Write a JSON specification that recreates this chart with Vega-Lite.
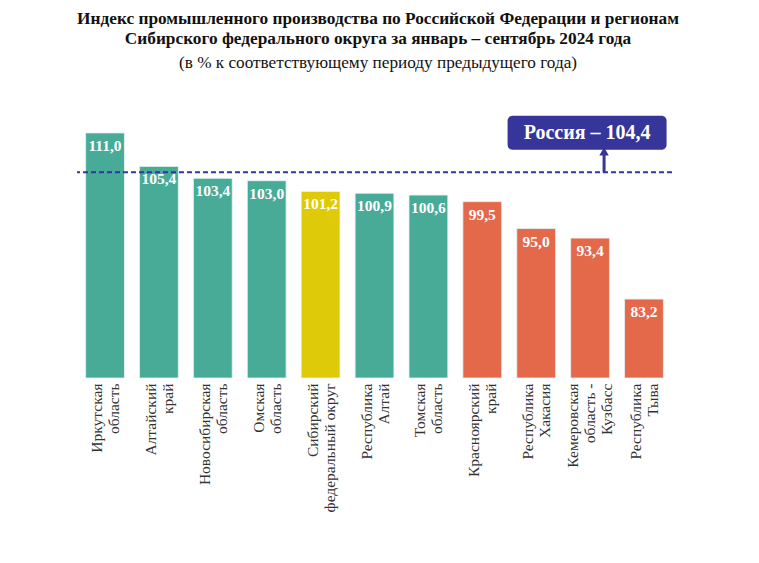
{
  "$schema": "https://vega.github.io/schema/vega-lite/v6.json",
  "width": 595,
  "height": 269,
  "autosize": "none",
  "padding": {"left": 77, "top": 109, "right": 87, "bottom": 185},
  "background": "white",
  "config": {"view": {"stroke": null}, "font": "Liberation Serif"},
  "title": {
    "text": ["Индекс промышленного производства по Российской Федерации и регионам", "Сибирского федерального округа за январь – сентябрь 2024 года"],
    "subtitle": "(в % к соответствующему периоду предыдущего года)",
    "anchor": "middle",
    "dx": 3.5,
    "font": "Liberation Serif",
    "fontSize": 17.3,
    "fontWeight": "bold",
    "color": "#111111",
    "lineHeight": 20,
    "subtitleFont": "Liberation Serif",
    "subtitleFontSize": 17.2,
    "subtitleColor": "#111111",
    "subtitlePadding": 7,
    "offset": 38
  },
  "datasets": {
    "bars": [
      {"region": "Иркутская\nобласть", "value": 111.0, "label": "111,0", "group": "up"},
      {"region": "Алтайский\nкрай", "value": 105.4, "label": "105,4", "group": "up"},
      {"region": "Новосибирская\nобласть", "value": 103.4, "label": "103,4", "group": "up"},
      {"region": "Омская\nобласть", "value": 103.0, "label": "103,0", "group": "up"},
      {"region": "Сибирский\nфедеральный округ", "value": 101.2, "label": "101,2", "group": "sfo"},
      {"region": "Республика\nАлтай", "value": 100.9, "label": "100,9", "group": "up"},
      {"region": "Томская\nобласть", "value": 100.6, "label": "100,6", "group": "up"},
      {"region": "Красноярский\nкрай", "value": 99.5, "label": "99,5", "group": "down"},
      {"region": "Республика\nХакасия", "value": 95.0, "label": "95,0", "group": "down"},
      {"region": "Кемеровская\nобласть -\nКузбасс", "value": 93.4, "label": "93,4", "group": "down"},
      {"region": "Республика\nТыва", "value": 83.2, "label": "83,2", "group": "down"}
    ],
    "russia": [
      {"region": "Кемеровская\nобласть -\nКузбасс", "value": 104.4, "boxLow": 108.2, "boxHigh": 113.85, "textY": 111.0, "arrowTop": 107.9, "label": "Россия – 104,4"}
    ]
  },
  "layer": [
    {
      "data": {"name": "bars"},
      "mark": {"type": "bar", "stroke": "#e8f3f0", "strokeWidth": 0.8},
      "encoding": {
        "x": {
          "field": "region", "type": "nominal", "sort": null,
          "scale": {"paddingInner": 0.28, "paddingOuter": 0.16},
          "axis": {
            "title": null, "domain": false, "ticks": false,
            "labelAngle": -90, "labelAlign": "right", "labelBaseline": "middle",
            "labelExpr": "split(datum.label, '\\n')",
            "labelOffset": {"condition": {"test": "length(split(datum.label, '\\n')) == 3", "value": -17}, "value": -8},
            "labelFont": "Liberation Serif", "labelFontSize": 15.5, "labelColor": "#333333",
            "labelLineHeight": 17, "labelPadding": 5, "labelLimit": 0
          }
        },
        "y": {
          "field": "value", "type": "quantitative",
          "scale": {"domain": [70, 115], "zero": false, "nice": false},
          "axis": null
        },
        "y2": {"datum": 70},
        "color": {
          "field": "group", "type": "nominal",
          "scale": {"domain": ["up", "sfo", "down"], "range": ["#48ab97", "#dfca0a", "#e3694a"]},
          "legend": null
        }
      }
    },
    {
      "data": {"name": "bars"},
      "mark": {"type": "text", "baseline": "top", "dy": 6, "font": "Liberation Serif", "fontWeight": "bold", "fontSize": 15.5, "color": "white"},
      "encoding": {
        "x": {"field": "region", "type": "nominal", "sort": null},
        "y": {"field": "value", "type": "quantitative"},
        "text": {"field": "label"}
      }
    },
    {
      "data": {"name": "russia"},
      "mark": {"type": "rule", "strokeDash": [5, 3], "strokeWidth": 2, "color": "#35359a"},
      "encoding": {"y": {"field": "value", "type": "quantitative"}}
    },
    {
      "data": {"name": "russia"},
      "mark": {"type": "rule", "strokeWidth": 3, "color": "#35359a", "xOffset": 14},
      "encoding": {
        "x": {"field": "region", "type": "nominal", "sort": null},
        "y": {"field": "value", "type": "quantitative"},
        "y2": {"field": "arrowTop"}
      }
    },
    {
      "data": {"name": "russia"},
      "mark": {"type": "point", "shape": "triangle-up", "filled": true, "size": 90, "color": "#35359a", "xOffset": 14, "opacity": 1},
      "encoding": {
        "x": {"field": "region", "type": "nominal", "sort": null},
        "y": {"field": "arrowTop", "type": "quantitative"}
      }
    },
    {
      "data": {"name": "russia"},
      "mark": {"type": "bar", "width": 159, "xOffset": -3, "cornerRadius": 5, "color": "#35359a"},
      "encoding": {
        "x": {"field": "region", "type": "nominal", "sort": null},
        "y": {"field": "boxLow", "type": "quantitative"},
        "y2": {"field": "boxHigh"}
      }
    },
    {
      "data": {"name": "russia"},
      "mark": {"type": "text", "xOffset": -3, "baseline": "middle", "font": "Liberation Serif", "fontWeight": "bold", "fontSize": 20, "color": "white"},
      "encoding": {
        "x": {"field": "region", "type": "nominal", "sort": null},
        "y": {"field": "textY", "type": "quantitative"},
        "text": {"field": "label"}
      }
    }
  ]
}
